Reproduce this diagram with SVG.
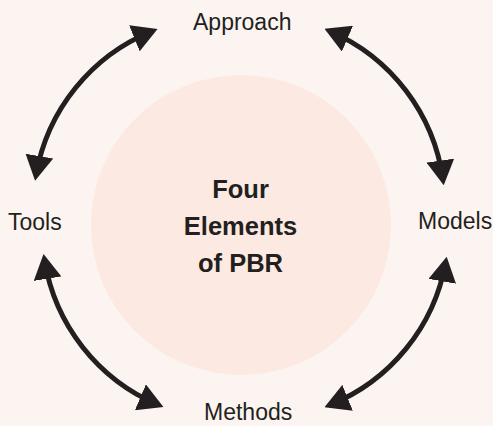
<svg xmlns="http://www.w3.org/2000/svg" width="493" height="426" viewBox="0 0 493 426">
<defs>
<style>
.lbl{font-family:"Liberation Sans",Arial,sans-serif;font-size:23px;fill:#231f20}
.ctr{font-family:"Liberation Sans",Arial,sans-serif;font-size:25.5px;font-weight:bold;fill:#231f20;text-anchor:middle}
.arc{fill:none;stroke:#231f20;stroke-width:5;marker-start:url(#ah);marker-end:url(#ah)}
</style>
<marker id="ah" viewBox="0 0 25 28" refX="19" refY="14" markerWidth="25" markerHeight="28" markerUnits="userSpaceOnUse" orient="auto-start-reverse">
<path d="M0,0 L25,14 L0,28 z" fill="#231f20"/>
</marker>
</defs>
<rect width="493" height="426" fill="#fcf4f0"/>
<g id="center">
<circle cx="241" cy="225" r="150" fill="#fce9e1"/>
<text class="ctr" x="240.5" y="198">Four</text>
<text class="ctr" x="240.5" y="235">Elements</text>
<text class="ctr" x="240.5" y="272">of PBR</text>
</g>
<g id="approach"><text class="lbl" x="193" y="30">Approach</text></g>
<g id="tools"><text class="lbl" x="8" y="230">Tools</text></g>
<g id="models"><text class="lbl" x="418" y="229">Models</text></g>
<g id="methods"><text class="lbl" x="204" y="420">Methods</text></g>
<g id="connectors">
<path class="arc" d="M36.1,174.8 A190,190 0 0 1 152,31.2"/>
<path class="arc" d="M330,31.2 A190,190 0 0 1 442.9,179.4"/>
<path class="arc" d="M445.6,262.6 A190,190 0 0 1 330,405"/>
<path class="arc" d="M157.9,404.7 A190,190 0 0 1 44.5,259.9"/>
</g>
</svg>
